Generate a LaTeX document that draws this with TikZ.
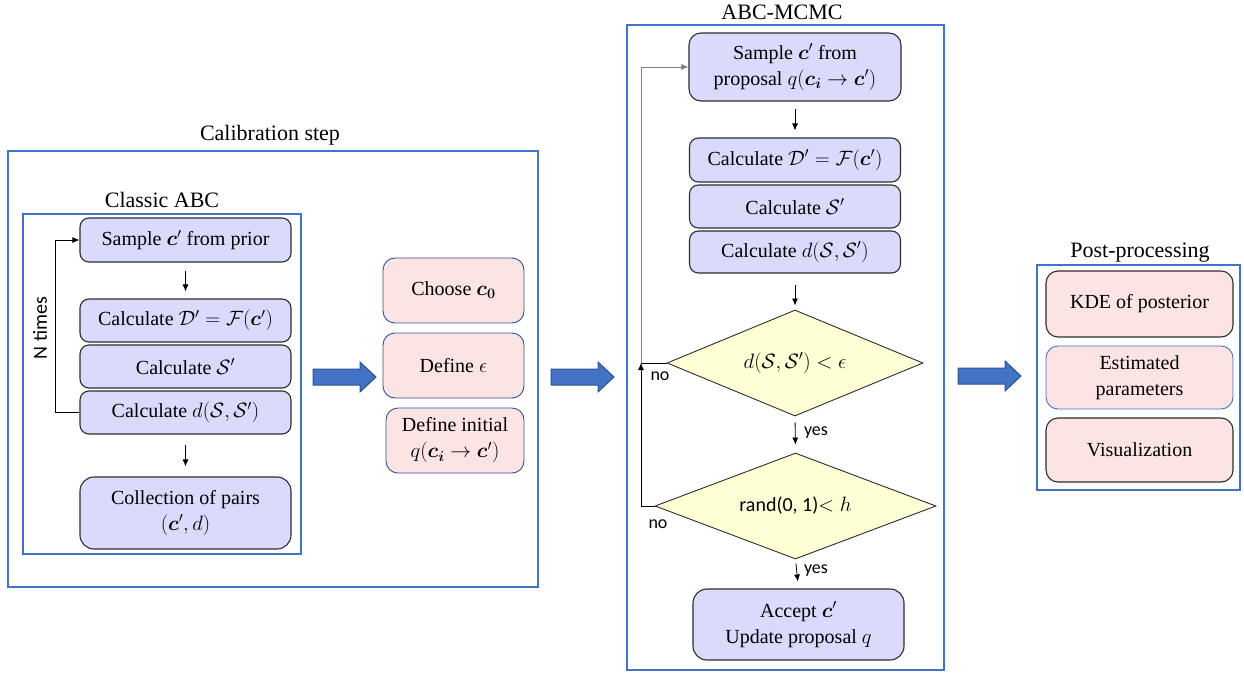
\documentclass[tikz,border=0pt]{standalone}
\usepackage{amsmath,bm}
\usepackage{fontspec}
\setmainfont{Liberation Serif}
\newfontfamily\calibri{Carlito}
\usetikzlibrary{shapes.geometric,arrows.meta}
\definecolor{frameblue}{RGB}{68,114,196}
\definecolor{lav}{RGB}{218,218,252}
\definecolor{pinkf}{RGB}{252,228,228}
\definecolor{yel}{RGB}{255,255,214}
\definecolor{darkblue}{RGB}{47,82,143}
\definecolor{edgec}{RGB}{45,45,45}
\newcommand\blockarrow[1]{%
  \draw[barrow] (#1) ++(-31.5,-8) -- ++(47,0) -- ++(0,-7) -- ++(16,15) -- ++(-16,15) -- ++(0,-7) -- ++(-47,0) -- cycle;}
\begin{document}
\begin{tikzpicture}[x=1pt,y=-1pt,
  boxfont/.style={font=\fontsize{20}{26}\selectfont},
  frame/.style={draw=frameblue,line width=1.8pt},
  title/.style={font=\fontsize{22}{26}\selectfont},
  lavbox/.style={draw=edgec,fill=lav,rounded corners=9pt,line width=1.1pt,minimum width=211pt,inner sep=0pt,align=center,boxfont},
  pinkbox/.style={draw=darkblue,fill=pinkf,rounded corners=12pt,line width=0.9pt,minimum width=141pt,inner sep=0pt,align=center,boxfont},
  pinkblk/.style={pinkbox,draw=edgec,line width=1.1pt},
  dia/.style={diamond,draw=edgec,fill=yel,line width=0.9pt,inner sep=0pt,boxfont},
  arr/.style={-{Latex[length=7pt,width=6pt]},line width=0.8pt,draw=black},
  lbl/.style={font=\calibri\fontsize{18}{20}\selectfont},
  barrow/.style={draw=darkblue,fill=frameblue,line width=1pt,line join=miter}
]
\useasboundingbox (0,0) rectangle (1244,672);

% frames and titles
\draw[frame] (8,151) rectangle (538,587);
\node[title] (tcal) at (270,135) {Calibration step};
\draw[frame] (23,214) rectangle (301,554);
\node[title] (tabc) at (162,200) {Classic ABC};
\draw[frame] (627,25) rectangle (944,670);
\node[title] (tmc) at (782,12) {ABC-MCMC};
\draw[frame] (1037,265) rectangle (1240,490);
\node[title] (tpp) at (1140,253) {Post-processing};

% Classic ABC
\node[lavbox,minimum height=44pt] (s1) at (185.5,240) {Sample $\bm{c}'$ from prior};
\node[lavbox,minimum height=43pt] (d1) at (185.5,320.5) {Calculate $\mathcal{D}'=\mathcal{F}(\bm{c}')$};
\node[lavbox,minimum height=43pt] (s2) at (185.5,366.5) {Calculate $\mathcal{S}'$};
\node[lavbox,minimum height=43pt] (dd1) at (185.5,412.5) {Calculate $d(\mathcal{S},\mathcal{S}')$};
\node[lavbox,minimum height=72pt,rounded corners=14pt] (coll) at (185.5,513) {Collection of pairs\\$(\bm{c}',d)$};
\draw[arr,shorten <=8pt,shorten >=7pt] (s1.south) -- (d1.north);
\draw[arr,shorten <=10pt,shorten >=10pt] (dd1.south) -- (coll.north);
\draw[arr] (dd1.west) -- ++(-24,0) |- (s1.west);
\node[rotate=90,font=\calibri\fontsize{20}{22}\selectfont] (nt) at (40,328) {N times};

% middle
\coordinate (ba1) at (344.5,377);
\blockarrow{ba1}
\node[pinkbox,minimum height=65pt] (ch) at (453.5,290.5) {Choose $\bm{c}_{\bm{0}}$};
\node[pinkbox,minimum height=65pt] (de) at (453.5,365.5) {Define $\epsilon$};
\node[pinkbox,minimum height=65pt,minimum width=138pt] (di) at (455,440.5) {Define initial\\$q(\bm{c}_{\bm{i}}\rightarrow\bm{c}')$};
\coordinate (ba2) at (582.5,377);
\blockarrow{ba2}

% ABC-MCMC
\node[lavbox,minimum height=68pt,minimum width=212pt,rounded corners=12pt] (samp) at (795,67) {Sample $\bm{c}'$ from\\proposal $q(\bm{c}_{\bm{i}}\rightarrow\bm{c}')$};
\node[lavbox,minimum height=44pt] (md) at (795,160) {Calculate $\mathcal{D}'=\mathcal{F}(\bm{c}')$};
\node[lavbox,minimum height=43pt] (ms) at (795,206.5) {Calculate $\mathcal{S}'$};
\node[lavbox,minimum height=42pt] (mdd) at (795,252) {Calculate $d(\mathcal{S},\mathcal{S}')$};
\node[dia,aspect=2.4,minimum width=256pt,minimum height=106pt] (dia1) at (795,363) {$d(\mathcal{S},\mathcal{S}')<\epsilon$};
\node[dia,aspect=2.65,minimum width=281pt,minimum height=106pt] (dia2) at (795.5,506) {{\calibri rand(0, 1)}$<h$};
\node[lavbox,minimum height=71pt,rounded corners=14pt] (acc) at (798.5,624.5) {Accept $\bm{c}'$\\Update proposal $q$};
\draw[arr,shorten <=7pt,shorten >=7pt] (samp.south) -- (md.north);
\draw[arr,shorten <=11pt,shorten >=4pt] (mdd.south) -- (dia1.north);
\draw[arr,shorten <=6pt,shorten >=8pt] (dia1.south) -- (dia2.north);
\draw[arr,shorten <=4pt,shorten >=7pt] (dia2.south) -- (acc.north);
\node[lbl] (y1) at (816,433) {yes};
\node[lbl] (y2) at (816,571) {yes};
\coordinate (j) at (641,363);
\draw[arr] (dia2.west) -| (j);
\draw[line width=0.8pt] (dia1.west) -- (j);
\draw[arr,draw=gray] (j) |- (samp.west);
\node[lbl] (n1) at (660,376) {no};
\node[lbl] (n2) at (658,524) {no};

% post-processing
\coordinate (ba3) at (989.5,376);
\blockarrow{ba3}
\node[pinkblk,minimum width=187pt,minimum height=66pt] (kde) at (1139.5,304) {KDE of posterior};
\node[pinkbox,draw=frameblue,minimum width=187pt,minimum height=63pt] (est) at (1139.5,377.5) {Estimated\\parameters};
\node[pinkblk,minimum width=187pt,minimum height=64pt] (vis) at (1139.5,450) {Visualization};
\end{tikzpicture}
\end{document}
